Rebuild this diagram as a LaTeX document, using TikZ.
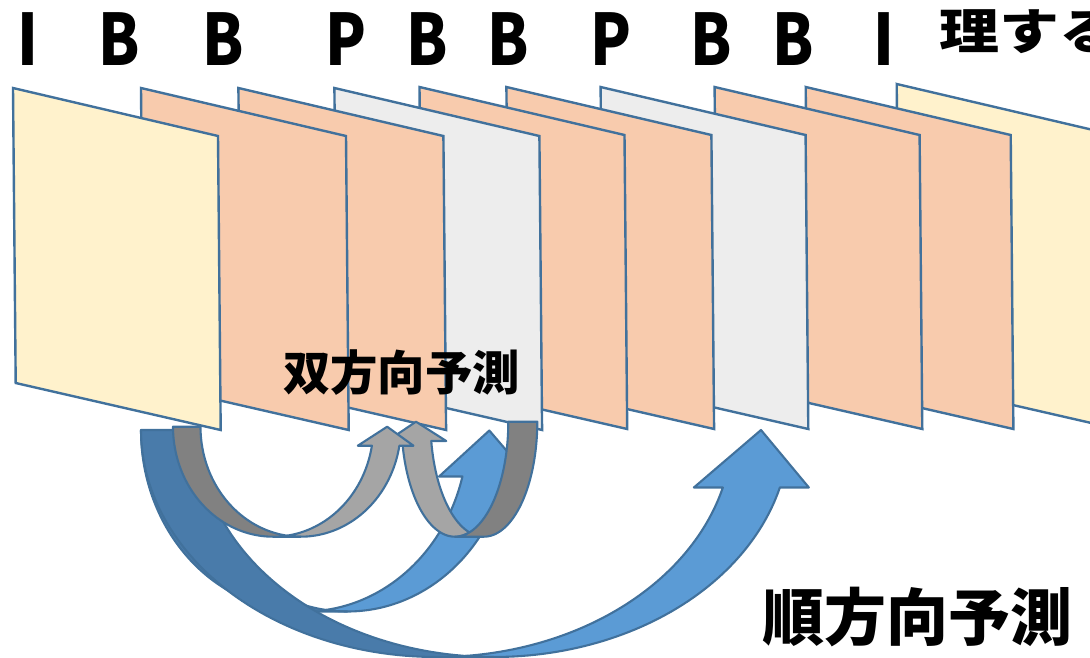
\documentclass[tikz,border=0pt]{standalone}
\usepackage{fontspec}
\usepackage{graphicx}
\newfontfamily\jp{Noto Sans CJK JP}
\definecolor{frameline}{HTML}{41719C}
\definecolor{fyel}{HTML}{FFF2CC}
\definecolor{fora}{HTML}{F8CBAD}
\definecolor{fgry}{HTML}{EDEDED}
\definecolor{blueL}{HTML}{5B9BD5}
\definecolor{blueD}{HTML}{497BAA}
\definecolor{grayL}{HTML}{A5A5A5}
\definecolor{grayD}{HTML}{818181}
\tikzset{
  frm/.style={draw=frameline, line width=2.4pt, line join=miter},
  arrline/.style={draw=frameline, line width=2.1pt, line join=round},
  lightb/.style={arrline, fill=blueL},
  darkb/.style={arrline, fill=blueD},
  lightg/.style={arrline, fill=grayL},
  darkg/.style={arrline, fill=grayD},
  letter/.style={font={\jp\bfseries\fontsize{71}{71}\selectfont}, inner sep=0pt, anchor=base},
  jpmid/.style={font={\jp\bfseries\fontsize{47.4}{47.4}\selectfont}, inner sep=0pt, anchor=base},
  jpbig/.style={font={\jp\bfseries\fontsize{62}{62}\selectfont}, inner sep=0pt, anchor=base},
  jptop/.style={font={\jp\bfseries\fontsize{60}{60}\selectfont}, inner sep=0pt, anchor=base west},
}
\newcommand\ltr[1]{\scalebox{0.84}[1]{#1}}
% frame: x, y (top-left), fill, name
\newcommand\frm[4]{\filldraw[frm, fill=#3] (#1,#2) coordinate (#4) -- ++(205,48) -- ++(2.7,294) -- ++(-205,-47) -- cycle;}
% curved up arrow: l, t, w, h, th, aw, ah, mirror(1/-1), colour set (b/g)
\newcommand\cuarrow[9]{%
  \pgfmathsetmacro\cuSX{#1+(1-#8)/2*#3}%
  \pgfmathsetmacro\cuwR{#3/2-(#5+#6)/4}%
  \pgfmathsetmacro\cuxiii{\cuwR+#5}%
  \pgfmathsetmacro\cudx{\cuwR*sqrt(1-(#7/#4)^2)}%
  \pgfmathsetmacro\cuxv{\cuwR+\cudx}%
  \pgfmathsetmacro\cuxvii{\cuxiii+\cudx}%
  \pgfmathsetmacro\cudh{(#6-#5)/2}%
  \pgfmathsetmacro\cuxiv{\cuxv-\cudh}%
  \pgfmathsetmacro\cuxviii{\cuxvii+\cudh}%
  \pgfmathsetmacro\cuxvi{#3-#6/2}%
  \pgfmathsetmacro\cupa{asin(#7/#4)}%
  \pgfmathsetmacro\cupb{acos(-#5/(2*\cuwR))}%
  \pgfmathsetmacro\cupc{acos(#5/(2*\cuwR))}%
  \begin{scope}[shift={(\cuSX,#2)}, xscale=#8]
    \filldraw[light#9] (\cuxvi,0) -- (\cuxviii,#7) -- (\cuxvii,#7)
      -- plot[domain=\cupa:\cupb, samples=60] ({\cuxiii+\cuwR*cos(\x)},{#4*sin(\x)})
      -- plot[domain=\cupc:\cupa, samples=60] ({\cuwR+\cuwR*cos(\x)},{#4*sin(\x)})
      -- (\cuxiv,#7) -- cycle;
    \filldraw[dark#9] plot[domain=90:180, samples=60] ({\cuwR+\cuwR*cos(\x)},{#4*sin(\x)})
      -- (#5,0)
      -- plot[domain=180:90, samples=60] ({\cuxiii+\cuwR*cos(\x)},{#4*sin(\x)}) -- cycle;
  \end{scope}%
}
\begin{document}
\begin{tikzpicture}[x=1pt, y=-1pt]
\useasboundingbox (0,0) rectangle (1090,657);
\clip (0,0) rectangle (1090,657);
% frames, back to front
\frm{896.7}{84}{fyel}{f10}
\frm{805.7}{87}{fora}{f9}
\frm{714.6}{87}{fora}{f8}
\frm{600.6}{87}{fgry}{f7}
\frm{506.4}{87}{fora}{f6}
\frm{419.5}{87}{fora}{f5}
\frm{334.4}{88}{fgry}{f4}
\frm{238.4}{88}{fora}{f3}
\frm{141}{88}{fora}{f2}
\frm{13}{88}{fyel}{f1}
% caption over the frames
\node[jpmid] (bidir) at (401.5,390.5) {双方向予測};
% arrows
\cuarrow{141}{430.5}{393.2}{181}{43}{89.8}{46}{1}{b}
\cuarrow{141}{430}{677.5}{227}{57}{115}{57.5}{1}{b}
\cuarrow{386.5}{421.7}{150.8}{115}{29}{59}{19.3}{-1}{g}
\cuarrow{173}{426.7}{242}{110}{27.5}{55.7}{19}{1}{g}
% picture type letters
\node[letter] (t1) at (27.5,65) {\ltr{I}};
\node[letter] (t2) at (119,65) {\ltr{B}};
\node[letter] (t3) at (223.5,65) {\ltr{B}};
\node[letter] (t4) at (346,65) {\ltr{P}};
\node[letter] (t5) at (427,65) {\ltr{B}};
\node[letter] (t6) at (508,65) {\ltr{B}};
\node[letter] (t7) at (611,65) {\ltr{P}};
\node[letter] (t8) at (711,65) {\ltr{B}};
\node[letter] (t9) at (793,65) {\ltr{B}};
\node[letter] (t10) at (884,65) {\ltr{I}};
\node[jptop] (topt) at (939,49.6) {\scalebox{1}[0.815]{理する}};
\node[jpbig] (fwd) at (917,640.5) {順方向予測};
\end{tikzpicture}
\end{document}
